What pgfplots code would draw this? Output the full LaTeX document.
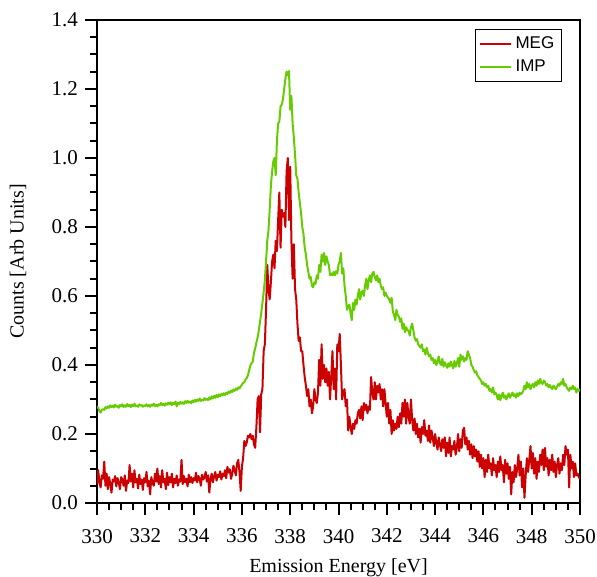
\documentclass[border=0pt]{standalone}
\usepackage{fontspec}
\setmainfont{Liberation Serif}
\newfontfamily\legfont{Liberation Sans}
\usepackage{pgfplots}
\pgfplotsset{compat=1.18}
\usepackage{pgfplotstable}
\definecolor{megred}{RGB}{204,0,0}
\definecolor{impgreen}{RGB}{102,204,0}
\pgfplotstableread{
x meg imp
330.00 0.055 0.280
330.05 0.095 0.276
330.10 0.060 0.266
330.15 0.045 0.262
330.20 0.080 0.270
330.25 0.070 0.272
330.30 0.120 0.270
330.35 0.050 0.278
330.40 0.085 0.274
330.45 0.040 0.280
330.50 0.075 0.276
330.55 0.055 0.283
330.60 0.030 0.278
330.65 0.068 0.282
330.70 0.062 0.277
330.75 0.078 0.285
330.80 0.048 0.279
330.85 0.072 0.281
330.90 0.060 0.276
330.95 0.040 0.284
331.00 0.075 0.280
331.05 0.068 0.286
331.10 0.050 0.278
331.15 0.080 0.283
331.20 0.035 0.279
331.25 0.065 0.287
331.30 0.058 0.281
331.35 0.110 0.284
331.40 0.062 0.278
331.45 0.085 0.285
331.50 0.045 0.281
331.55 0.095 0.288
331.60 0.060 0.280
331.65 0.070 0.283
331.70 0.042 0.279
331.75 0.082 0.286
331.80 0.055 0.282
331.85 0.068 0.284
331.90 0.038 0.279
331.95 0.072 0.283
332.00 0.060 0.281
332.05 0.090 0.286
332.10 0.048 0.280
332.15 0.065 0.284
332.20 0.025 0.279
332.25 0.075 0.285
332.30 0.058 0.282
332.35 0.050 0.288
332.40 0.085 0.281
332.45 0.062 0.285
332.50 0.100 0.280
332.55 0.055 0.286
332.60 0.078 0.283
332.65 0.045 0.290
332.70 0.095 0.284
332.75 0.060 0.287
332.80 0.070 0.282
332.85 0.040 0.289
332.90 0.088 0.285
332.95 0.052 0.291
333.00 0.075 0.286
333.05 0.060 0.292
333.10 0.085 0.284
333.15 0.045 0.290
333.20 0.070 0.287
333.25 0.058 0.294
333.30 0.080 0.280
333.35 0.050 0.291
333.40 0.068 0.286
333.45 0.062 0.293
333.50 0.125 0.288
333.55 0.055 0.292
333.60 0.078 0.287
333.65 0.060 0.295
333.70 0.070 0.290
333.75 0.048 0.296
333.80 0.082 0.291
333.85 0.060 0.294
333.90 0.075 0.289
333.95 0.058 0.297
334.00 0.072 0.292
334.05 0.065 0.299
334.10 0.088 0.294
334.15 0.060 0.300
334.20 0.078 0.296
334.25 0.070 0.303
334.30 0.050 0.296
334.35 0.082 0.300
334.40 0.068 0.297
334.45 0.075 0.304
334.50 0.090 0.299
334.55 0.062 0.302
334.60 0.080 0.298
334.65 0.030 0.306
334.70 0.070 0.300
334.75 0.085 0.309
334.80 0.060 0.303
334.85 0.078 0.311
334.90 0.090 0.305
334.95 0.065 0.313
335.00 0.082 0.307
335.05 0.075 0.315
335.10 0.092 0.309
335.15 0.068 0.316
335.20 0.085 0.312
335.25 0.078 0.318
335.30 0.095 0.313
335.35 0.072 0.320
335.40 0.105 0.316
335.45 0.088 0.323
335.50 0.098 0.319
335.55 0.070 0.326
335.60 0.085 0.322
335.65 0.108 0.329
335.70 0.095 0.325
335.75 0.080 0.332
335.80 0.115 0.328
335.85 0.125 0.335
335.90 0.090 0.332
335.95 0.035 0.338
336.00 0.105 0.343
336.05 0.130 0.348
336.10 0.180 0.350
336.15 0.165 0.358
336.20 0.175 0.362
336.25 0.195 0.370
336.30 0.190 0.385
336.35 0.200 0.398
336.40 0.185 0.405
336.45 0.195 0.410
336.50 0.170 0.435
336.55 0.160 0.448
336.60 0.220 0.465
336.65 0.300 0.480
336.70 0.310 0.500
336.75 0.205 0.525
336.80 0.315 0.550
336.85 0.330 0.580
336.90 0.440 0.610
336.95 0.460 0.645
337.00 0.560 0.700
337.05 0.690 0.760
337.10 0.620 0.790
337.15 0.590 0.850
337.20 0.640 0.920
337.25 0.700 0.960
337.30 0.720 0.990
337.35 0.680 1.000
337.40 0.760 0.950
337.45 0.730 1.050
337.50 0.820 1.100
337.55 0.900 1.105
337.60 0.740 1.150
337.65 0.850 1.155
337.70 0.830 1.170
337.75 0.840 1.200
337.80 0.800 1.230
337.85 0.960 1.250
337.90 1.000 1.240
337.95 0.820 1.252
338.00 0.975 1.140
338.05 0.760 1.180
338.10 0.650 1.100
338.15 0.750 1.060
338.20 0.620 1.010
338.25 0.590 0.950
338.30 0.520 0.940
338.35 0.470 0.900
338.40 0.480 0.870
338.45 0.440 0.840
338.50 0.440 0.800
338.55 0.400 0.780
338.60 0.365 0.740
338.65 0.340 0.720
338.70 0.310 0.690
338.75 0.330 0.670
338.80 0.280 0.650
338.85 0.300 0.655
338.90 0.260 0.630
338.95 0.280 0.625
339.00 0.330 0.640
339.05 0.300 0.635
339.10 0.290 0.660
339.15 0.320 0.650
339.20 0.415 0.690
339.25 0.340 0.670
339.30 0.460 0.720
339.35 0.360 0.700
339.40 0.400 0.725
339.45 0.350 0.690
339.50 0.390 0.715
339.55 0.340 0.700
339.60 0.380 0.690
339.65 0.300 0.660
339.70 0.370 0.665
339.75 0.440 0.660
339.80 0.330 0.670
339.85 0.390 0.660
339.90 0.300 0.672
339.95 0.460 0.665
340.00 0.440 0.690
340.05 0.490 0.700
340.10 0.400 0.725
340.15 0.300 0.665
340.20 0.320 0.680
340.25 0.330 0.630
340.30 0.280 0.600
340.35 0.300 0.560
340.40 0.210 0.570
340.45 0.250 0.575
340.50 0.220 0.550
340.55 0.200 0.530
340.60 0.230 0.580
340.65 0.215 0.560
340.70 0.240 0.590
340.75 0.230 0.575
340.80 0.260 0.600
340.85 0.270 0.620
340.90 0.245 0.590
340.95 0.280 0.610
341.00 0.240 0.615
341.05 0.290 0.600
341.10 0.270 0.630
341.15 0.285 0.650
341.20 0.260 0.620
341.25 0.280 0.645
341.30 0.270 0.660
341.35 0.365 0.640
341.40 0.320 0.665
341.45 0.300 0.670
341.50 0.350 0.655
341.55 0.300 0.645
341.60 0.340 0.660
341.65 0.320 0.640
341.70 0.345 0.650
341.75 0.300 0.630
341.80 0.330 0.620
341.85 0.280 0.625
341.90 0.330 0.600
341.95 0.290 0.610
342.00 0.250 0.600
342.05 0.290 0.595
342.10 0.230 0.590
342.15 0.270 0.580
342.20 0.200 0.595
342.25 0.240 0.555
342.30 0.210 0.545
342.35 0.230 0.530
342.40 0.215 0.560
342.45 0.250 0.545
342.50 0.220 0.540
342.55 0.260 0.525
342.60 0.230 0.535
342.65 0.290 0.505
342.70 0.250 0.520
342.75 0.300 0.495
342.80 0.230 0.510
342.85 0.290 0.500
342.90 0.250 0.500
342.95 0.230 0.485
343.00 0.300 0.510
343.05 0.240 0.520
343.10 0.210 0.500
343.15 0.245 0.480
343.20 0.200 0.470
343.25 0.230 0.475
343.30 0.190 0.460
343.35 0.215 0.455
343.40 0.175 0.450
343.45 0.220 0.460
343.50 0.200 0.440
343.55 0.240 0.445
343.60 0.195 0.430
343.65 0.210 0.450
343.70 0.180 0.435
343.75 0.225 0.425
343.80 0.175 0.430
343.85 0.210 0.415
343.90 0.190 0.420
343.95 0.165 0.405
344.00 0.200 0.415
344.05 0.175 0.400
344.10 0.155 0.410
344.15 0.190 0.425
344.20 0.170 0.405
344.25 0.150 0.400
344.30 0.185 0.418
344.35 0.160 0.395
344.40 0.190 0.408
344.45 0.135 0.400
344.50 0.175 0.392
344.55 0.145 0.405
344.60 0.190 0.395
344.65 0.135 0.410
344.70 0.165 0.400
344.75 0.155 0.390
344.80 0.180 0.412
344.85 0.140 0.395
344.90 0.160 0.405
344.95 0.200 0.420
345.00 0.150 0.395
345.05 0.185 0.430
345.10 0.160 0.415
345.15 0.210 0.425
345.20 0.218 0.410
345.25 0.170 0.420
345.30 0.190 0.415
345.35 0.155 0.440
345.40 0.180 0.430
345.45 0.140 0.420
345.50 0.170 0.400
345.55 0.130 0.395
345.60 0.165 0.385
345.65 0.135 0.378
345.70 0.155 0.382
345.75 0.120 0.370
345.80 0.150 0.365
345.85 0.105 0.360
345.90 0.140 0.355
345.95 0.100 0.345
346.00 0.130 0.350
346.05 0.075 0.340
346.10 0.125 0.345
346.15 0.090 0.335
346.20 0.140 0.340
346.25 0.100 0.325
346.30 0.115 0.330
346.35 0.080 0.320
346.40 0.130 0.335
346.45 0.095 0.315
346.50 0.110 0.320
346.55 0.075 0.312
346.60 0.120 0.300
346.65 0.090 0.315
346.70 0.135 0.298
346.75 0.095 0.310
346.80 0.110 0.320
346.85 0.060 0.305
346.90 0.125 0.312
346.95 0.085 0.300
347.00 0.115 0.310
347.05 0.070 0.318
347.10 0.105 0.305
347.15 0.025 0.312
347.20 0.090 0.320
347.25 0.060 0.310
347.30 0.110 0.315
347.35 0.075 0.305
347.40 0.100 0.318
347.45 0.140 0.310
347.50 0.080 0.320
347.55 0.120 0.315
347.60 0.045 0.318
347.65 0.100 0.325
347.70 0.015 0.340
347.75 0.080 0.330
347.80 0.130 0.350
347.85 0.090 0.335
347.90 0.125 0.345
347.95 0.165 0.330
348.00 0.100 0.340
348.05 0.145 0.345
348.10 0.085 0.335
348.15 0.130 0.350
348.20 0.070 0.340
348.25 0.120 0.355
348.30 0.090 0.345
348.35 0.140 0.360
348.40 0.110 0.348
348.45 0.155 0.345
348.50 0.095 0.355
348.55 0.160 0.350
348.60 0.105 0.340
348.65 0.130 0.345
348.70 0.080 0.335
348.75 0.125 0.342
348.80 0.095 0.335
348.85 0.140 0.330
348.90 0.090 0.340
348.95 0.120 0.335
349.00 0.075 0.330
349.05 0.110 0.338
349.10 0.130 0.345
349.15 0.085 0.340
349.20 0.115 0.350
349.25 0.095 0.345
349.30 0.140 0.360
349.35 0.110 0.340
349.40 0.165 0.345
349.45 0.140 0.335
349.50 0.155 0.330
349.55 0.045 0.325
349.60 0.140 0.335
349.65 0.100 0.330
349.70 0.120 0.340
349.75 0.075 0.330
349.80 0.115 0.335
349.85 0.080 0.320
349.90 0.085 0.330
349.95 0.075 0.325
350.00 0.070 0.330
}\spectra

\begin{document}
\begin{tikzpicture}
\begin{axis}[
  width=241.5pt, height=241.5pt, scale only axis,
  xmin=330, xmax=350, ymin=0, ymax=1.4,
  xtick={330,332,334,336,338,340,342,344,346,348,350},
  ytick={0,0.2,0.4,0.6,0.8,1.0,1.2,1.4},
  minor x tick num=3, minor y tick num=3,
  tick align=outside,
  xtick pos=lower, ytick pos=left,
  major tick length=6pt, minor tick length=3.5pt,
  axis line style={line width=1pt},
  every tick/.style={black, line width=1pt},
  /pgf/number format/assume math mode=true,
  xticklabel style={/pgf/number format/1000 sep={}, font=\fontsize{10.5}{12}\selectfont, yshift=-3.5pt},
  yticklabel style={/pgf/number format/.cd, fixed, fixed zerofill, precision=1, /tikz/font=\fontsize{10.5}{12}\selectfont},
  xlabel={Emission Energy [eV]},
  ylabel={Counts [Arb Units]},
  xlabel style={at={(axis description cs:0.5,-0.134)}, anchor=center, font=\fontsize{10}{12}\selectfont},
  ylabel style={at={(axis description cs:-0.1636,0.5)}, anchor=center, font=\fontsize{10}{12}\selectfont},
  legend style={at={(axis description cs:1,1)}, anchor=north east, xshift=-9pt, yshift=-4.5pt,
    draw=black, line width=0.75pt, font=\legfont\fontsize{8.5}{10}\selectfont, inner sep=1.5pt},
  legend cell align=left,
  legend image code/.code={\draw[#1] (0pt,0pt) -- (15.5pt,0pt);},
]
\addplot[megred, line width=1pt, line join=round] table[x=x, y=meg] {\spectra};
\addlegendentry{MEG}
\addplot[impgreen, line width=1pt, line join=round] table[x=x, y=imp] {\spectra};
\addlegendentry{IMP}
\coordinate (bl) at (rel axis cs:0,0);
\coordinate (tr) at (rel axis cs:1,1);
\end{axis}
\pgfresetboundingbox
\path[use as bounding box] ([xshift=-48.5pt,yshift=-36.5pt]bl) rectangle ([xshift=8.5pt,yshift=10pt]tr);
\end{tikzpicture}
\end{document}
